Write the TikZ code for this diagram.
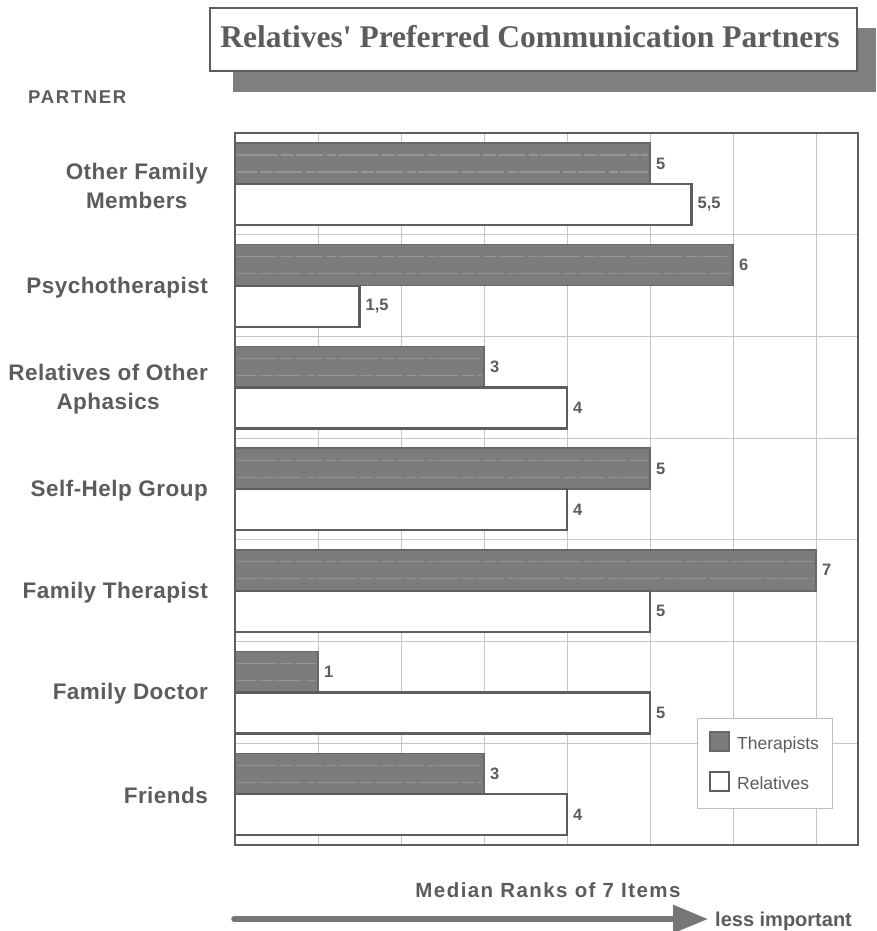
\documentclass[tikz,border=0pt]{standalone}
\usepackage{fontspec}
\setmainfont{Liberation Sans}
\newfontfamily\titleserif{Liberation Serif}
\usetikzlibrary{arrows.meta}

\definecolor{inkgray}{HTML}{5C5C5C}
\definecolor{framegray}{HTML}{5E5E5E}
\definecolor{gridgray}{HTML}{C6C6C6}
\definecolor{barfill}{HTML}{7C7C7C}
\definecolor{baredge}{HTML}{686868}
\definecolor{barstreak}{HTML}{959595}
\definecolor{shadowgray}{HTML}{7F7F7F}
\definecolor{legendedge}{HTML}{C0C0C0}

% one row of the chart: #1 row index, #2 therapists value, #3 its label,
% #4 relatives value, #5 its label, #6 partner name
\newcommand\partnerrow[6]{%
  \pgfmathsetmacro\rowtop{133+101.7*#1}%
  \pgfmathsetmacro\thend{235+83*#2}%
  \pgfmathsetmacro\relend{235+83*#4}%
  \fill[therbar] (235,\rowtop+10) rectangle (\thend,\rowtop+51);
  \draw[streak] (237,\rowtop+22) -- (\thend-2,\rowtop+22);
  \draw[streak,dash phase=21pt] (237,\rowtop+39) -- (\thend-2,\rowtop+39);
  \draw[therbar,fill=none] (235,\rowtop+10) rectangle (\thend,\rowtop+51);
  \draw[relbar] (235,\rowtop+51) rectangle (\relend,\rowtop+92);
  \node[vallabel] (t#1) at (\thend+6,\rowtop+30.5) {#3};
  \node[vallabel] (r#1) at (\relend+6,\rowtop+71.5) {#5};
  \node[catlabel] (c#1) at (208,\rowtop+52.5) {#6};
}

\begin{document}
\begin{tikzpicture}[x=1pt,y=-1pt,
  catlabel/.style={anchor=east,align=center,text=inkgray,inner sep=0pt,
    font=\fontsize{22.5}{29}\selectfont\bfseries\addfontfeatures{LetterSpace=2}},
  vallabel/.style={anchor=west,text=inkgray,inner sep=0pt,
    font=\fontsize{16.5}{18}\selectfont\bfseries},
  therbar/.style={fill=barfill,draw=baredge,line width=1.4pt},
  streak/.style={draw=barstreak,line width=1.1pt,
    dash pattern=on 41pt off 3pt on 13pt off 2pt on 27pt off 4pt on 9pt off 2pt},
  relbar/.style={fill=white,draw=framegray,line width=2.4pt},
  gridline/.style={draw=gridgray,line width=0.9pt},
  legendtext/.style={anchor=base west,text=inkgray,inner sep=0pt,
    font=\fontsize{17.5}{20}\selectfont},
]
\useasboundingbox (0,0) rectangle (876,931);
\fill[white] (0,0) rectangle (876,931);

% title with its drop shadow
\fill[shadowgray] (233,28) rectangle (876,92);
\draw[fill=white,draw=framegray,line width=1.8pt] (210,8) rectangle (857,71);
\node[anchor=base,text=inkgray,inner sep=0pt,
  font=\titleserif\fontsize{31.5}{34}\selectfont\bfseries] (title) at (530,48)
  {Relatives\textquotesingle\ Preferred Communication Partners};

\node[anchor=base west,text=inkgray,inner sep=0pt,
  font=\fontsize{18.5}{20}\selectfont\bfseries\addfontfeatures{LetterSpace=9}]
  (axistitle) at (28,103) {PARTNER};

% grid
\foreach \k in {1,...,7} \draw[gridline] (235+83*\k,133) -- (235+83*\k,845);
\foreach \k in {1,...,6} \draw[gridline] (235,133+101.7*\k) -- (858,133+101.7*\k);

% bars
\partnerrow{0}{5}{5}{5.5}{5,5}{Other Family\\Members}
\partnerrow{1}{6}{6}{1.5}{1,5}{Psychotherapist}
\partnerrow{2}{3}{3}{4}{4}{Relatives of Other\\Aphasics}
\partnerrow{3}{5}{5}{4}{4}{Self-Help Group}
\partnerrow{4}{7}{7}{5}{5}{Family Therapist}
\partnerrow{5}{1}{1}{5}{5}{Family Doctor}
\partnerrow{6}{3}{3}{4}{4}{Friends}

% plot frame
\draw[framegray,line width=2.6pt] (235,133) rectangle (858,845);

% legend
\draw[fill=white,draw=legendedge,line width=0.9pt] (697,718) rectangle (832,808);
\draw[therbar] (710,732) rectangle (729,751);
\draw[relbar,line width=2.2pt] (710,772) rectangle (729,791);
\node[legendtext] (legther) at (737,749) {Therapists};
\node[legendtext] (legrel) at (737,789) {Relatives};

% value axis
\node[anchor=base,text=inkgray,inner sep=0pt,
  font=\fontsize{20.5}{24}\selectfont\bfseries\addfontfeatures{LetterSpace=7}]
  (valaxis) at (548,897) {Median Ranks of 7 Items};
\node[anchor=base west,text=inkgray,inner sep=0pt,
  font=\fontsize{20}{24}\selectfont\bfseries] (less) at (715,926) {less important};
\coordinate (axstart) at (234,919);
\draw[draw=framegray!85!white,line width=5.5pt,line cap=round,
  -{Triangle[length=35pt,width=27pt]}] (axstart) -- ([xshift=-7pt]axstart -| less.west);
\end{tikzpicture}
\end{document}
